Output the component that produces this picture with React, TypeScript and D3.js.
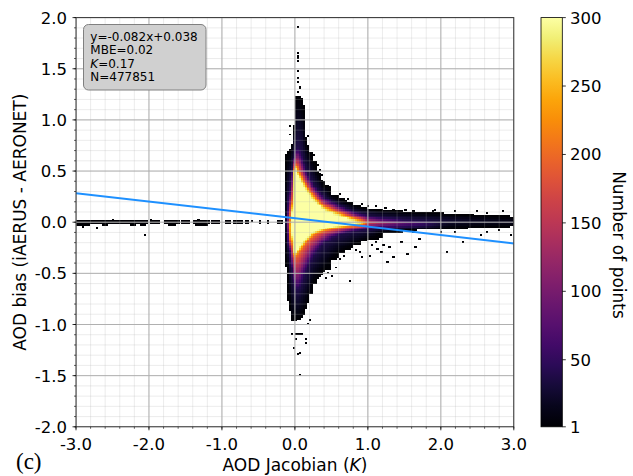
import React, { useMemo } from "react";
import * as d3 from "d3";

const W = 633;
const H = 476;
const PL = 76, PR = 513.8, PT = 17.6, PB = 426.8;
const CBL = 541, CBR = 562.3;

const xTicks = [-3, -2, -1, 0, 1, 2, 3];
const yTicks = [-2, -1.5, -1, -0.5, 0, 0.5, 1, 1.5, 2];
const cbTicks = [1, 50, 100, 150, 200, 250, 300];
const fitSlope = -0.082;
const fitIntercept = 0.038;
const statsText = ["y=-0.082x+0.038", "MBE=0.02", "K=0.17", "N=477851"];

// histogram bin counts along each axis
const NBX = 220, NBY = 240;

// main density feature, level boundaries read at sample AOD Jacobian values
const profX =   [-0.13, -0.10, -0.07, -0.04, -0.01, 0.02, 0.05, 0.08, 0.11, 0.14, 0.17, 0.20, 0.25, 0.30, 0.35, 0.40, 0.50, 0.60, 0.70, 0.80, 0.90, 1.00, 1.20, 1.50, 1.80, 2.10, 2.50, 3.00];
const envTop =  [0.49, 0.69, 0.72, 0.77, 0.95, 1.24, 1.24, 1.22, 1.15, 0.84, 0.75, 0.68, 0.60, 0.50, 0.42, 0.36, 0.27, 0.23, 0.20, 0.17, 0.15, 0.14, 0.12, 0.105, 0.095, 0.085, 0.07, 0.05];
const envBot =  [-0.38, -0.45, -0.80, -0.96, -0.96, -0.96, -0.95, -0.93, -0.90, -0.85, -0.78, -0.70, -0.60, -0.55, -0.51, -0.47, -0.37, -0.30, -0.26, -0.22, -0.19, -0.16, -0.10, -0.075, -0.065, -0.06, -0.05, -0.04];
const l40Top =  [NaN, 0.12, 0.30, 0.52, 0.64, 0.72, 0.72, 0.66, 0.58, 0.51, 0.46, 0.42, 0.36, 0.31, 0.27, 0.24, 0.20, 0.16, 0.13, 0.10, 0.08, 0.06, 0.045, 0.025, 0.01, NaN, NaN, NaN];
const l40Bot =  [NaN, -0.12, -0.28, -0.45, -0.60, -0.66, -0.65, -0.60, -0.53, -0.48, -0.43, -0.38, -0.32, -0.27, -0.22, -0.19, -0.145, -0.115, -0.095, -0.08, -0.07, -0.065, -0.055, -0.045, -0.035, NaN, NaN, NaN];
const l200Top = [NaN, NaN, 0.06, 0.20, 0.53, 0.56, 0.50, 0.46, 0.42, 0.38, 0.34, 0.31, 0.27, 0.23, 0.19, 0.16, 0.13, 0.10, 0.07, 0.045, 0.025, NaN, NaN, NaN, NaN, NaN, NaN, NaN];
const l200Bot = [NaN, NaN, -0.16, -0.22, -0.33, -0.33, -0.30, -0.27, -0.24, -0.21, -0.18, -0.16, -0.13, -0.11, -0.095, -0.08, -0.065, -0.055, -0.045, -0.04, -0.035, NaN, NaN, NaN, NaN, NaN, NaN, NaN];
const l300Top = [NaN, NaN, NaN, 0.10, 0.50, 0.53, 0.46, 0.42, 0.38, 0.34, 0.30, 0.27, 0.23, 0.19, 0.16, 0.13, 0.10, 0.07, 0.045, 0.02, NaN, NaN, NaN, NaN, NaN, NaN, NaN, NaN];
const l300Bot = [NaN, NaN, NaN, -0.12, -0.29, -0.29, -0.26, -0.23, -0.20, -0.17, -0.15, -0.13, -0.10, -0.08, -0.07, -0.06, -0.045, -0.035, -0.025, -0.015, NaN, NaN, NaN, NaN, NaN, NaN, NaN, NaN];
const peakCount = [10, 100, 240, 300, 300, 300, 300, 300, 300, 300, 300, 300, 300, 300, 300, 300, 300, 300, 300, 300, 280, 170, 130, 80, 50, 30, 22, 18];

// near-zero line of points at negative Jacobian (x ranges)
const lineX0 = [-3.0, -1.98, -1.80, -1.54, -1.375, -1.13, -0.94, -0.82, -0.67, -0.49, -0.38, -0.22];
const lineX1 = [-2.02, -1.86, -1.60, -1.45, -1.17, -1.03, -0.87, -0.71, -0.64, -0.47, -0.36, -0.16];
const lineLowX0 = [-2.98, -2.62, -2.25, -2.12, -1.72, -1.36];
const lineLowX1 = [-2.80, -2.55, -2.18, -2.05, -1.62, -1.22];

// isolated bins
const scatX = [-2.71, -2.9, -2.05, -2.5, -1.97, -1.32, -0.6,
  0.03, 0.03, 0.04, 0.05, 0.03, 0.03, 0.05, 0.05, 0.06, 0.06, 0.05, -0.055, -0.055, 0.17,
  -0.03, 0.0, 0.03, 0.06, 0.09, 0.0, 0.15, 0.15, -0.02, 0.05, 0.08, 0.07, 0.2, 0.18,
  0.45, 0.5, 0.42, 0.55, 0.76, 0.92, 1.01, 1.1, 1.14, 1.18, 1.28, 1.36, 1.55, 1.22, 1.3, 1.45, 1.62, 1.65, 1.7, 2.09, 2.31, 2.54, 2.63, 2.95, 2.8, 2.2, 2.0,
  0.72, 1.0, 1.25, 1.35, 1.5, 1.62, 1.9, 1.93, 2.2, 2.5, 2.62, 2.85, 0.9, 1.1,
  0.62, 0.66, 0.84, 0.88, 1.05, 0.35, 0.38, 0.6, 0.25, 0.3];
const scatY = [-0.065, -0.05, -0.13, 0.025, 0.025, 0.025, 0.0,
  1.91, 1.65, 1.62, 1.6, 1.57, 1.47, 1.4, 1.37, 1.33, 1.3, 1.27, 0.94, 0.85, 0.84,
  -1.09, -1.09, -1.09, -1.09, -1.09, -1.15, -1.15, -1.18, -1.22, -1.29, -1.27, -1.49, -0.96, -0.99,
  -0.5, -0.53, -0.55, -0.45, -0.58, -0.34, -0.32, -0.2, -0.26, -0.3, -0.4, -0.34, -0.31, -0.22, -0.25, -0.2, -0.1, -0.24, -0.16, -0.29, -0.2, -0.12, -0.1, -0.12, -0.07, -0.1, -0.09,
  0.22, 0.16, 0.14, 0.12, 0.12, 0.1, 0.1, 0.12, 0.11, 0.1, 0.09, 0.1, 0.18, 0.15,
  -0.36, -0.33, -0.27, -0.3, -0.22, 0.5, 0.46, 0.27, 0.66, 0.56];

function profileCount(i: number, yv: number): number {
  const lo: [number, number][] = [];
  const hi: [number, number][] = [];
  const loRaw: [number, number][] = [[envBot[i], 1], [l40Bot[i], 40], [l200Bot[i], 200], [l300Bot[i], 300]];
  const hiRaw: [number, number][] = [[l300Top[i], 300], [l200Top[i], 200], [l40Top[i], 40], [envTop[i], 1]];
  loRaw.forEach((k) => { if (!isNaN(k[0])) lo.push(k); });
  hiRaw.forEach((k) => { if (!isNaN(k[0])) hi.push(k); });
  let knots: [number, number][];
  if (isNaN(l300Bot[i])) {
    const a = lo[lo.length - 1][0], b = hi[0][0];
    knots = [...lo, [(a + b) / 2, peakCount[i]], ...hi];
  } else knots = [...lo, ...hi];
  if (yv < knots[0][0] || yv > knots[knots.length - 1][0]) return 0;
  for (let k = 0; k < knots.length - 1; k++) {
    const [y0, c0] = knots[k], [y1, c1] = knots[k + 1];
    if (yv >= y0 && yv <= y1) {
      if (y1 === y0) return Math.max(c0, c1);
      return c0 + ((yv - y0) / (y1 - y0)) * (c1 - c0);
    }
  }
  return 0;
}

function buildGrid(): number[][] {
  const bw = 6 / NBX, bh = 4 / NBY;
  const g: number[][] = Array.from({ length: NBX }, () => new Array(NBY).fill(0));
  const col = (xv: number) => Math.floor((xv + 3) / bw);
  const row = (yv: number) => Math.floor((yv + 2) / bh);
  for (let i = 0; i < NBX; i++) {
    const cx = -3 + (i + 0.5) * bw;
    if (cx < profX[0] - bw / 2 || cx > 3) continue;
    let k = 0;
    while (k < profX.length - 2 && cx > profX[k + 1]) k++;
    let t = (cx - profX[k]) / (profX[k + 1] - profX[k]);
    t = Math.max(0, Math.min(1, t));
    for (let j = 0; j < NBY; j++) {
      const cy = -2 + (j + 0.5) * bh;
      const c = (1 - t) * profileCount(k, cy) + t * profileCount(k + 1, cy);
      if (c >= 0.5) g[i][j] = Math.max(1, c);
    }
  }
  const mark = (xv: number, yv: number, c: number) => {
    const i = col(xv), j = row(yv);
    if (i >= 0 && i < NBX && j >= 0 && j < NBY) g[i][j] = Math.max(g[i][j], c);
  };
  lineX0.forEach((x0, s) => {
    for (let xv = x0; xv <= lineX1[s] + 1e-9; xv += bw) {
      mark(xv, 0.008, 3);
      mark(xv, -0.008, 3);
    }
  });
  lineLowX0.forEach((x0, s) => {
    for (let xv = x0; xv <= lineLowX1[s] + 1e-9; xv += bw) mark(xv, -0.025, 1);
  });
  scatX.forEach((xv, s) => mark(xv, scatY[s], 1));
  return g;
}

export default function App() {
  const x = d3.scaleLinear().domain([-3, 3]).range([PL, PR]);
  const y = d3.scaleLinear().domain([-2, 2]).range([PB, PT]);
  const cb = d3.scaleLinear().domain([1, 300]).range([PB, PT]);
  const color = (c: number) => d3.interpolateInferno((Math.min(c, 300) - 1) / 299);

  const grid = useMemo(() => buildGrid(), []);
  const bw = 6 / NBX, bh = 4 / NBY;
  const rects: React.ReactElement[] = [];
  for (let i = 0; i < NBX; i++) {
    for (let j = 0; j < NBY; j++) {
      const c = grid[i][j];
      if (c <= 0) continue;
      const x0 = x(-3 + i * bw), x1 = x(-3 + (i + 1) * bw);
      const y1 = y(-2 + j * bh), y0 = y(-2 + (j + 1) * bh);
      rects.push(
        <rect key={i * 1000 + j} x={x0} y={y0} width={x1 - x0 + 0.25} height={y1 - y0 + 0.25} fill={color(c)} />
      );
    }
  }

  const xMinor = d3.range(-3, 3.0001, 0.2).map((v) => +v.toFixed(2));
  const yMinor = d3.range(-2, 2.0001, 0.1).map((v) => +v.toFixed(2));
  const stops = d3.range(0, 1.0001, 0.05);
  const font = "DejaVu Sans, sans-serif";

  return (
    <svg width={W} height={H} style={{ position: "absolute", left: 0, top: 0, background: "#fff" }} fontFamily={font}>
      <defs>
        <clipPath id="plotclip">
          <rect x={PL} y={PT} width={PR - PL} height={PB - PT} />
        </clipPath>
        <linearGradient id="cbgrad" x1="0" y1="1" x2="0" y2="0">
          {stops.map((s) => (
            <stop key={s} offset={s} stopColor={d3.interpolateInferno(s)} />
          ))}
        </linearGradient>
      </defs>
      <rect x={0} y={0} width={W} height={H} fill="#fff" />
      <g clipPath="url(#plotclip)">
        <g shapeRendering="crispEdges">{rects}</g>
        {xMinor.map((v) => (
          <line key={"xm" + v} x1={x(v)} x2={x(v)} y1={PT} y2={PB} stroke="#b0b0b0" strokeOpacity={0.3} strokeWidth={0.8} />
        ))}
        {yMinor.map((v) => (
          <line key={"ym" + v} y1={y(v)} y2={y(v)} x1={PL} x2={PR} stroke="#b0b0b0" strokeOpacity={0.3} strokeWidth={0.8} />
        ))}
        {xTicks.map((v) => (
          <line key={"xg" + v} x1={x(v)} x2={x(v)} y1={PT} y2={PB} stroke="#b0b0b0" strokeWidth={1} />
        ))}
        {yTicks.map((v) => (
          <line key={"yg" + v} y1={y(v)} y2={y(v)} x1={PL} x2={PR} stroke="#b0b0b0" strokeWidth={1} />
        ))}
        <line x1={x(-3)} x2={x(3)} y1={y(fitSlope * -3 + fitIntercept)} y2={y(fitSlope * 3 + fitIntercept)} stroke="#1e90ff" strokeWidth={2} />
      </g>
      <rect x={PL} y={PT} width={PR - PL} height={PB - PT} fill="none" stroke="#333" strokeWidth={1} />
      {xMinor.map((v) => (
        <line key={"xmt" + v} x1={x(v)} x2={x(v)} y1={PB} y2={PB + 2} stroke="#000" strokeWidth={0.6} />
      ))}
      {yMinor.map((v) => (
        <line key={"ymt" + v} x1={PL - 2} x2={PL} y1={y(v)} y2={y(v)} stroke="#000" strokeWidth={0.6} />
      ))}
      {xTicks.map((v) => (
        <g key={"xt" + v}>
          <line x1={x(v)} x2={x(v)} y1={PB} y2={PB + 3.5} stroke="#000" strokeWidth={0.8} />
          <text x={x(v)} y={449.5} textAnchor="middle" fontSize={16.5} fill="#000">{v.toFixed(1)}</text>
        </g>
      ))}
      {yTicks.map((v) => (
        <g key={"yt" + v}>
          <line x1={PL - 3.5} x2={PL} y1={y(v)} y2={y(v)} stroke="#000" strokeWidth={0.8} />
          <text x={67} y={y(v) + 6} textAnchor="end" fontSize={16.5} fill="#000">{v.toFixed(1)}</text>
        </g>
      ))}
      <text x={(PL + PR) / 2} y={471} textAnchor="middle" fontSize={17} fill="#000">
        AOD Jacobian (<tspan fontStyle="italic">K</tspan>)
      </text>
      <text transform={`translate(26,${(PT + PB) / 2}) rotate(-90)`} textAnchor="middle" fontSize={17} fill="#000">
        AOD bias (iAERUS - AERONET)
      </text>
      <rect x={83.5} y={24.5} width={122.5} height={65.5} rx={5} fill="#d0d0d0" stroke="#808080" strokeWidth={1} />
      {statsText.map((s, i) => (
        <text key={s} x={90.3} y={41 + i * 13.4} fontSize={12} fill="#000">
          {s.startsWith("K") ? (
            <>
              <tspan fontStyle="italic">K</tspan>
              {s.slice(1)}
            </>
          ) : (
            s
          )}
        </text>
      ))}
      <rect x={CBL} y={PT} width={CBR - CBL} height={PB - PT} fill="url(#cbgrad)" stroke="#000" strokeWidth={0.8} />
      {cbTicks.map((v) => (
        <g key={"cb" + v}>
          <line x1={CBR} x2={CBR + 3.5} y1={cb(v)} y2={cb(v)} stroke="#000" strokeWidth={0.8} />
          <text x={570} y={cb(v) + 6} fontSize={16.5} fill="#000">{v}</text>
        </g>
      ))}
      <text transform={`translate(612.5,245) rotate(90)`} textAnchor="middle" fontSize={17} fill="#000">
        Number of points
      </text>
      <text x={16} y={469} fontFamily="Liberation Serif, serif" fontSize={23} fill="#000">(c)</text>
    </svg>
  );
}
